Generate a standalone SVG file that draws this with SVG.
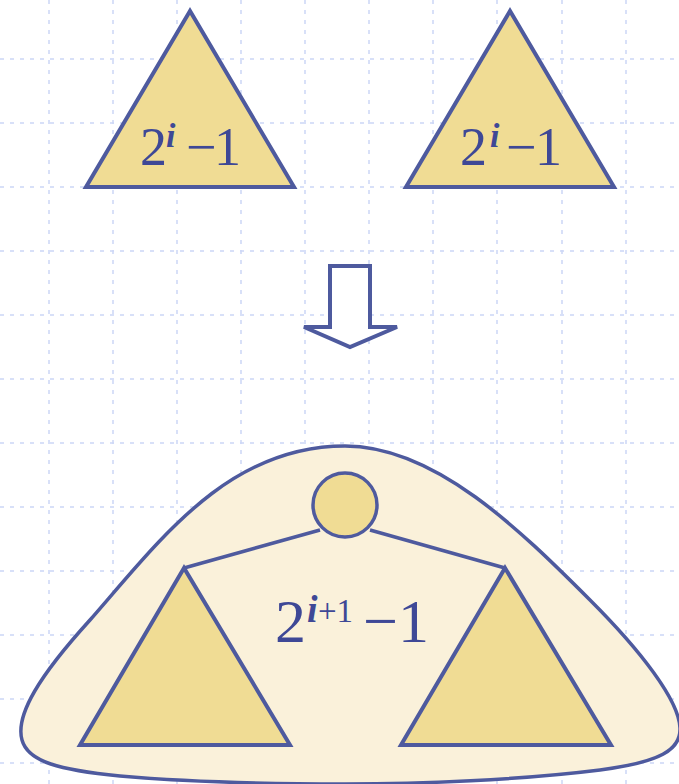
<svg xmlns="http://www.w3.org/2000/svg" width="679" height="784" viewBox="0 0 679 784">
<style>
.grid line{stroke:#cbd6f6;stroke-width:1.5;stroke-dasharray:4 6}
.tri{fill:#f0dc94;stroke:#4e5a9e;stroke-width:4;stroke-linejoin:miter}
.edge{stroke:#4e5a9e;stroke-width:3.5;fill:none}
.t{font-family:"Liberation Serif","Times New Roman",serif;fill:#3e4896}
.sup{font-style:italic;font-weight:bold}
</style>
<rect width="679" height="784" fill="#ffffff"/>
<g class="grid">
<line x1="49" y1="0" x2="49" y2="784"/>
<line x1="113" y1="0" x2="113" y2="784"/>
<line x1="177" y1="0" x2="177" y2="784"/>
<line x1="241" y1="0" x2="241" y2="784"/>
<line x1="305" y1="0" x2="305" y2="784"/>
<line x1="369" y1="0" x2="369" y2="784"/>
<line x1="433" y1="0" x2="433" y2="784"/>
<line x1="497" y1="0" x2="497" y2="784"/>
<line x1="562" y1="0" x2="562" y2="784"/>
<line x1="626" y1="0" x2="626" y2="784"/>
<line x1="0" y1="59" x2="679" y2="59"/>
<line x1="0" y1="123" x2="679" y2="123"/>
<line x1="0" y1="187" x2="679" y2="187"/>
<line x1="0" y1="251" x2="679" y2="251"/>
<line x1="0" y1="315" x2="679" y2="315"/>
<line x1="0" y1="379" x2="679" y2="379"/>
<line x1="0" y1="443" x2="679" y2="443"/>
<line x1="0" y1="507" x2="679" y2="507"/>
<line x1="0" y1="571" x2="679" y2="571"/>
<line x1="0" y1="635" x2="679" y2="635"/>
<line x1="0" y1="699" x2="679" y2="699"/>
<line x1="0" y1="763" x2="679" y2="763"/>
</g>
<g id="left-subtree">
<polygon class="tri" points="190,11 86,187 294,187"/>
<text class="t" y="165" font-size="54"><tspan x="140">2</tspan><tspan class="sup" x="166" y="147" font-size="34">i</tspan><tspan x="186" y="165">−</tspan><tspan x="214">1</tspan></text>
</g>
<g id="right-subtree">
<polygon class="tri" points="510,11 406,187 614,187"/>
<text class="t" y="165" font-size="54"><tspan x="460">2</tspan><tspan class="sup" x="490" y="147" font-size="34">i</tspan><tspan x="506" y="165">−</tspan><tspan x="535">1</tspan></text>
</g>
<g id="arrow">
<polygon points="330,266 370,266 370,327 397,327 350,347 304,327 330,327" fill="#ffffff" stroke="#4e5a9e" stroke-width="4" stroke-linejoin="miter"/>
</g>
<g id="merged-tree">
<path d="M345,446 C228,446 160,540 90,620 C40,675 15,715 22,740 C28,762 60,770 120,776 C200,783 280,784 345,784 C420,784 520,780 600,770 C660,762 681,750 680,728 C679,700 640,650 590,600 C520,530 435,446 345,446 Z" fill="#faf1da" stroke="#4e5a9e" stroke-width="3.5"/>
</g>
<g id="connectors">
<line class="edge" x1="320" y1="530" x2="184" y2="568"/>
<line class="edge" x1="370" y1="530" x2="505" y2="568"/>
</g>
<g id="root">
<circle cx="345" cy="505" r="32" fill="#f0dc94" stroke="#4e5a9e" stroke-width="3.5"/>
</g>
<g id="left-child">
<polygon class="tri" points="184,568 80,745 290,745"/>
</g>
<g id="right-child">
<polygon class="tri" points="505,568 401,745 611,745"/>
</g>
<g id="label">
<text class="t" y="642" font-size="62"><tspan x="275">2</tspan><tspan class="sup" x="307" y="622" font-size="38">i</tspan><tspan x="318" y="622" font-size="33">+1</tspan><tspan x="363" y="642">−</tspan><tspan x="398">1</tspan></text>
</g>
</svg>
